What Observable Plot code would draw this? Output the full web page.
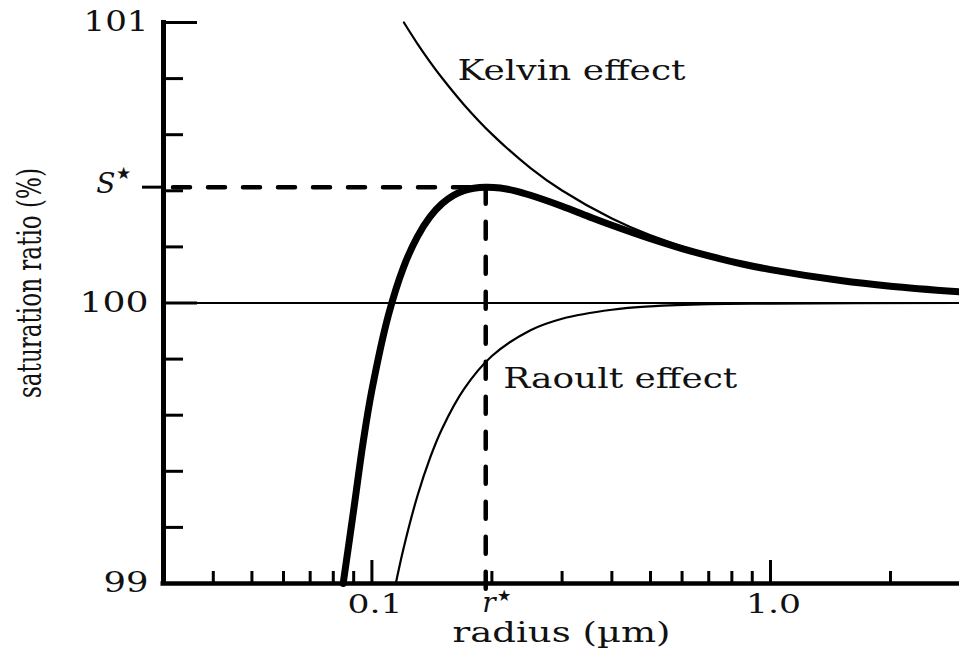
<!DOCTYPE html>
<html>
<head>
<meta charset="utf-8">
<script src="https://cdn.jsdelivr.net/npm/d3@7"></script>
<script src="https://cdn.jsdelivr.net/npm/@observablehq/plot@0.6"></script>
<style>
  html, body { margin: 0; padding: 0; background: #fff; }
</style>
</head>
<body>
<div id="chart"></div>
<script>
// ---- data ----
// Kelvin effect curve (radius in µm, saturation ratio in %)
const kelvinRadius = [0.1203, 0.13, 0.14, 0.15, 0.17, 0.2, 0.25, 0.3, 0.4, 0.5, 0.7, 1.0, 1.5, 2.0, 2.98];
const kelvinSat    = [101.0, 100.925, 100.859, 100.802, 100.708, 100.602, 100.481, 100.401, 100.301, 100.241, 100.172, 100.120, 100.080, 100.060, 100.040];

// Raoult effect curve
const raoultRadius = [0.1148, 0.12, 0.13, 0.14, 0.15, 0.17, 0.2, 0.25, 0.3, 0.4, 0.5, 0.7, 1.0, 2.98];
const raoultSat    = [99.0, 99.124, 99.311, 99.449, 99.552, 99.692, 99.811, 99.903, 99.944, 99.976, 99.988, 99.996, 99.998, 100.0];

// Combined (Köhler) curve
const kohlerRadius = [0.0847, 0.09, 0.095, 0.1, 0.11, 0.12, 0.13, 0.14, 0.15, 0.16, 0.17, 0.18, 0.193, 0.21, 0.23, 0.25, 0.3, 0.35, 0.4, 0.5, 0.6, 0.7, 0.85, 1.0, 1.5, 2.0, 2.98];
const kohlerSat    = [99.0, 99.262, 99.501, 99.690, 99.957, 100.127, 100.236, 100.308, 100.354, 100.383, 100.400, 100.409, 100.413, 100.410, 100.399, 100.384, 100.345, 100.308, 100.277, 100.229, 100.194, 100.168, 100.139, 100.119, 100.080, 100.060, 100.040];

// critical point
const rStar = 0.193;
const sStar = 100.413;

// axes
const xDomain = [0.03, 2.98];
const yDomain = [99, 101];
const xMinorTicks = [0.04, 0.05, 0.06, 0.07, 0.08, 0.09, 0.2, 0.3, 0.4, 0.5, 0.6, 0.7, 0.8, 0.9, 2.0];
const xMajorTicks = [0.1, 1.0];
const xTickLabels = ["0.1", "1.0"];
const yMinorTicks = [99.2, 99.4, 99.6, 99.8, 100.2, 100.4, 100.6, 100.8];
const yMajorTicks = [100, 101];
const yLabelValues = [99, 100, 101];
const yTickLabels = ["99", "100", "101"];

// annotations
const curveLabels = ["Kelvin effect", "Raoult effect"];
const curveLabelRadius = [0.164, 0.2135];
const curveLabelSat = [100.827, 99.729];

const xTitle = "radius (µm)";
const yTitle = "saturation ratio (%)";

// ---- build tables ----
const toRows = (rs, ss) => rs.map((r, i) => ({r, s: ss[i]}));
const kelvin = toRows(kelvinRadius, kelvinSat);
const raoult = toRows(raoultRadius, raoultSat);
const kohler = toRows(kohlerRadius, kohlerSat);
const star = [{r: rStar, s: sStar}];
const annotations = curveLabels.map((t, i) => ({t, r: curveLabelRadius[i], s: curveLabelSat[i]}));

const W = 959, H = 660, ML = 163, MR = 0, MT = 22, MB = 77;
const FW = W - ML - MR, FH = H - MT - MB;
const dash = {stroke: "#000", strokeWidth: 4.5, strokeDasharray: "17,18", strokeLinecap: "round"};

const svg = Plot.plot({
  width: W, height: H,
  marginLeft: ML, marginRight: MR, marginTop: MT, marginBottom: MB,
  x: {type: "log", domain: xDomain, axis: null},
  y: {domain: yDomain, axis: null},
  style: {fontFamily: "'DejaVu Serif', serif", fontSize: "28px", color: "#000", background: "#fff", overflow: "visible"},
  marks: [
    // reference line at 100 %
    Plot.ruleY([100], {stroke: "#000", strokeWidth: 2}),
    // dashed guides to the critical point
    Plot.ruleY(star, {y: "s", x1: () => xDomain[0], x2: "r", insetLeft: 10, ...dash}),
    Plot.ruleX(star, {x: "r", y1: "s", y2: () => yDomain[0], insetBottom: -15, ...dash}),
    // inward ticks
    Plot.tickY(yMinorTicks, {y: d => d, stroke: "#000", strokeWidth: 3, insetRight: FW - 20}),
    Plot.tickY(yMajorTicks, {y: d => d, stroke: "#000", strokeWidth: 3, insetRight: FW - 34}),
    Plot.tickY([sStar], {y: d => d, stroke: "#000", strokeWidth: 3, insetLeft: -21, insetRight: FW}),
    Plot.tickX(xMinorTicks, {x: d => d, stroke: "#000", strokeWidth: 3, insetTop: FH - 12}),
    Plot.tickX(xMajorTicks, {x: d => d, stroke: "#000", strokeWidth: 3, insetTop: FH - 23}),
    // axis lines
    Plot.ruleX([xDomain[0]], {stroke: "#000", strokeWidth: 5, insetTop: -2, insetBottom: -2}),
    Plot.ruleY([yDomain[0]], {stroke: "#000", strokeWidth: 4.5, insetLeft: -2.5}),
    // curves
    Plot.line(raoult, {x: "r", y: "s", stroke: "#000", strokeWidth: 2.2, curve: "catmull-rom"}),
    Plot.line(kelvin, {x: "r", y: "s", stroke: "#000", strokeWidth: 2.2, curve: "catmull-rom"}),
    Plot.line(kohler, {x: "r", y: "s", stroke: "#000", strokeWidth: 7, curve: "catmull-rom"}),
    // y tick labels
    Plot.text(yLabelValues, {y: d => d, text: (d, i) => yTickLabels[i], frameAnchor: "left", textAnchor: "end", dx: -15, fill: "#111"}),
    Plot.text(star, {y: "s", text: () => "S", fontStyle: "italic", frameAnchor: "left", textAnchor: "end", dx: -48, dy: -3, fill: "#111"}),
    Plot.text(star, {y: "s", text: () => "\u2605", frameAnchor: "left", textAnchor: "start", dx: -48, dy: -14, fontSize: 17, fill: "#111"}),
    // x tick labels
    Plot.text(xMajorTicks, {x: d => d, text: (d, i) => xTickLabels[i], frameAnchor: "bottom", dy: 29, dx: 3, fontSize: 26, fill: "#111"}),
    Plot.text(star, {x: "r", text: () => "r", fontStyle: "italic", frameAnchor: "bottom", textAnchor: "end", dx: 10, dy: 28, fill: "#111"}),
    Plot.text(star, {x: "r", text: () => "\u2605", frameAnchor: "bottom", textAnchor: "start", dx: 11, dy: 17, fontSize: 16, fill: "#111"}),
    // axis titles
    Plot.text([xTitle], {text: d => d, frameAnchor: "bottom", dy: 58, fontSize: 27, fill: "#111"}),
    Plot.text([yTitle], {text: d => d, frameAnchor: "left", textAnchor: "start", dx: -133, dy: 95, rotate: -90, fontSize: 34, fill: "#111"}),
    // curve annotations
    Plot.text(annotations, {x: "r", y: "s", text: "t", textAnchor: "start", fontSize: 28, fill: "#111"})
  ]
});

// widen the glyphs as in the reference typesetting
const targetWidths = new Map([
  ["101", 65], ["100", 69], ["99", 45], ["0.1", 55], ["1.0", 55],
  ["Kelvin effect", 228], ["Raoult effect", 234], [xTitle, 218], [yTitle, 230]
]);
svg.querySelectorAll("text").forEach(t => {
  const w = targetWidths.get(t.textContent);
  if (w) {
    t.setAttribute("textLength", w);
    t.setAttribute("lengthAdjust", "spacingAndGlyphs");
  }
});

document.getElementById("chart").appendChild(svg);
</script>
</body>
</html>
